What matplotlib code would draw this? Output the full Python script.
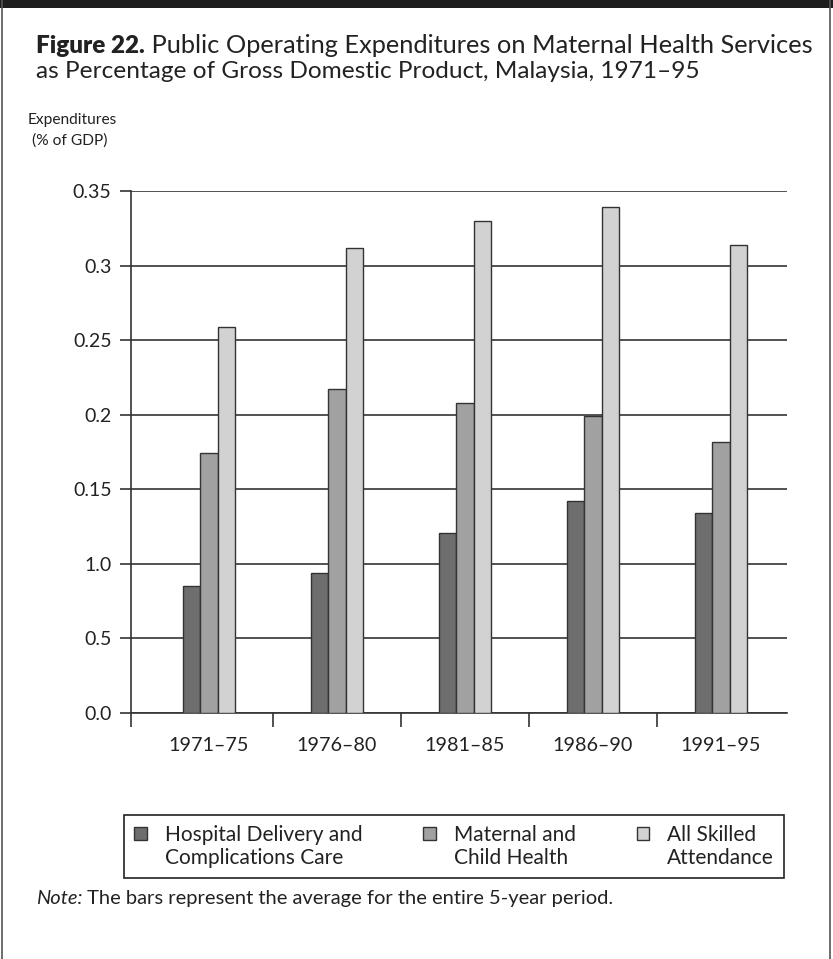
import matplotlib
matplotlib.use('Agg')
import matplotlib.pyplot as plt
import matplotlib.patches as mpatches
from matplotlib.container import BarContainer
from matplotlib.legend_handler import HandlerPatch, update_from_first_child
from matplotlib.lines import Line2D
import numpy as np

plt.rcParams['font.family'] = ['Lato', 'DejaVu Sans']

#%% data
periods = ['1971–75', '1976–80', '1981–85', '1986–90', '1991–95']
series = ['Hospital Delivery and\nComplications Care',
          'Maternal and\nChild Health',
          'All Skilled\nAttendance']
hospital = [0.085, 0.094, 0.121, 0.142, 0.134]
maternal = [0.174, 0.217, 0.208, 0.199, 0.182]
skilled = [0.259, 0.312, 0.330, 0.339, 0.314]
yticks = [0.0, 0.05, 0.10, 0.15, 0.20, 0.25, 0.30, 0.35]
ytick_labels = ['0.0', '0.5', '1.0', '0.15', '0.2', '0.25', '0.3', '0.35']
colors = ['#6e6e6e', '#a1a1a1', '#d2d2d2']

#%% figure
fig = plt.figure(figsize=(8.33, 9.59), dpi=100)
ax = fig.add_axes([131/833, 1-713/959, 656/833, 522/959])

x = np.arange(len(periods))
w = 0.136
for k, (vals, c, lab) in enumerate(zip([hospital, maternal, skilled], colors, series)):
    ax.bar(x + (k-1)*w, vals, width=w, color=c, edgecolor='#333333',
           linewidth=1.0, label=lab, zorder=3)

ax.set_ylim(0, 0.35)
ax.set_xlim(-0.608, 4.517)
ax.set_yticks(yticks)
ax.set_yticklabels(ytick_labels)
ax.yaxis.grid(True, color='#333333', linewidth=1.2)
ax.set_axisbelow(True)
ax.tick_params(axis='y', length=8, width=1.2, color='#333333', pad=6,
               labelsize=14, labelcolor='#222222')

# boundaries as major ticks, period names on minor ticks
ax.set_xticks([-0.608, 0.5, 1.5, 2.5, 3.5])
ax.set_xticklabels([])
ax.set_xticks(x, minor=True)
ax.set_xticklabels(periods, minor=True)
ax.tick_params(axis='x', which='major', length=10, width=1.2, color='#333333')
ax.tick_params(axis='x', which='minor', length=0, pad=17, labelsize=14.2,
               labelcolor='#222222')

for s in ['top', 'right']:
    ax.spines[s].set_visible(False)
for s in ['left', 'bottom']:
    ax.spines[s].set_color('#333333')
    ax.spines[s].set_linewidth(1.2)


#%% legend, patch aligned on first text line
def top_patch(legend, orig_handle, xdescent, ydescent, width, height, fontsize):
    return mpatches.Rectangle((-xdescent, -ydescent + 0.65*fontsize), width, height)

handles, labels = ax.get_legend_handles_labels()
leg = ax.legend(handles, labels, ncol=3, loc='upper left',
                bbox_to_anchor=(-7/656, -171/522, 660/656, 69/522),
                mode='expand', borderaxespad=0, fancybox=False,
                edgecolor='#222222', framealpha=1, fontsize=15,
                handlelength=0.6, handleheight=0.6, handletextpad=0.85,
                borderpad=0.5,
                handler_map={BarContainer: HandlerPatch(patch_func=top_patch,
                                                        update_func=update_from_first_child)})
leg.get_frame().set_linewidth(1.2)
for t in leg.get_texts():
    t.set_linespacing(1.15)
    t.set_color('#222222')

#%% titles and notes
t1 = fig.text(36/833, 1-57/959, 'Figure 22.', fontsize=17.5, fontweight='heavy',
              color='#222222', va='bottom')
ax.annotate(' Public Operating Expenditures on Maternal Health Services',
            xy=(1, 0), xycoords=t1, va='bottom', ha='left', fontsize=18.3,
            color='#222222', annotation_clip=False)
fig.text(36/833, 1-82/959, 'as Percentage of Gross Domestic Product, Malaysia, 1971–95',
         fontsize=17.6, color='#222222', va='bottom')
fig.text(28/833, 1-148/959, 'Expenditures\n (% of GDP)', fontsize=11.2,
         color='#222222', va='bottom', linespacing=1.6)

t2 = fig.text(36/833, 1-907/959, 'Note:', fontsize=14.5, style='italic',
              color='#222222', va='bottom')
ax.annotate(' The bars represent the average for the entire 5-year period.',
            xy=(1, 0), xycoords=t2, va='bottom', ha='left', fontsize=14.5,
            color='#222222', annotation_clip=False)

# page frame
fig.add_artist(mpatches.Rectangle((0, 1-8/959), 1, 8/959, transform=fig.transFigure,
                                  color='#1e1e1e', lw=0))
fig.add_artist(Line2D([2/833, 2/833], [0, 1], transform=fig.transFigure,
                      color='#555555', lw=1.2))
fig.add_artist(Line2D([830/833, 830/833], [0, 1], transform=fig.transFigure,
                      color='#555555', lw=1.2))

fig.savefig('out.png', dpi=100)
